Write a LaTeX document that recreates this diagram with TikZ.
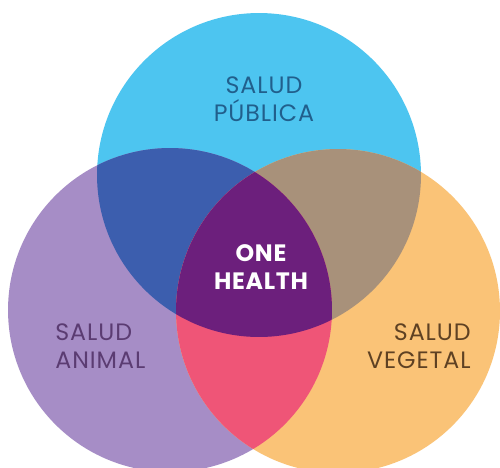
\documentclass[tikz,border=0pt]{standalone}
\usepackage{fontspec}
\setmainfont{Poppins}
\usetikzlibrary{positioning}
\definecolor{pubcyan}{HTML}{4DC5F0}
\definecolor{anipurple}{HTML}{A68DC6}
\definecolor{vegorange}{HTML}{FAC377}
\definecolor{pubani}{HTML}{3C5EAE}
\definecolor{pubveg}{HTML}{A8917A}
\definecolor{aniveg}{HTML}{EF5577}
\definecolor{onepurple}{HTML}{6C1F7C}
\definecolor{pubtext}{HTML}{215F8C}
\definecolor{anitext}{HTML}{5B3C72}
\definecolor{vegtext}{HTML}{5E4123}
\newcommand{\rad}{3.24cm}

\begin{document}
\begin{tikzpicture}[x=0.02cm, y=-0.02cm,
  label/.style={font=\fontsize{13.5}{16}\selectfont\addfontfeature{LetterSpace=4}, inner sep=0pt}]

% canvas
\fill[white] (0,0) rectangle (500,467);
\useasboundingbox (0,0) rectangle (500,467);
\clip (0,0) rectangle (500,467);

% =====================================================
% Circle centres
% =====================================================
\coordinate (pub) at (259,175);
\coordinate (ani) at (170,310);
\coordinate (veg) at (338,311);

% Single circles
\fill[pubcyan] (pub) circle (\rad);
\fill[anipurple] (ani) circle (\rad);
\fill[vegorange] (veg) circle (\rad);

% Pairwise overlaps
\begin{scope}
  \clip (pub) circle (\rad);
  \fill[pubani] (ani) circle (\rad);
  \fill[pubveg] (veg) circle (\rad);
\end{scope}
\begin{scope}
  \clip (ani) circle (\rad);
  \fill[aniveg] (veg) circle (\rad);
\end{scope}

% Centre overlap
\begin{scope}
  \clip (pub) circle (\rad);
  \clip (ani) circle (\rad);
  \fill[onepurple] (veg) circle (\rad);
\end{scope}

% =====================================================
% Labels
% =====================================================
\node[label, text=pubtext, align=center] (publab) at (264,99) {SALUD\\PÚBLICA};
\node[label, text=anitext, align=left, anchor=west] (anilab) at (55,346) {SALUD\\ANIMAL};
\node[label, text=vegtext, align=right, anchor=east] (veglab) at (471,346) {SALUD\\VEGETAL};
\node[label, text=white, align=center, font=\fontsize{13.5}{15.5}\selectfont\bfseries\addfontfeature{LetterSpace=3}] (onelab) at (261,267) {ONE\\HEALTH};

\end{tikzpicture}
\end{document}
